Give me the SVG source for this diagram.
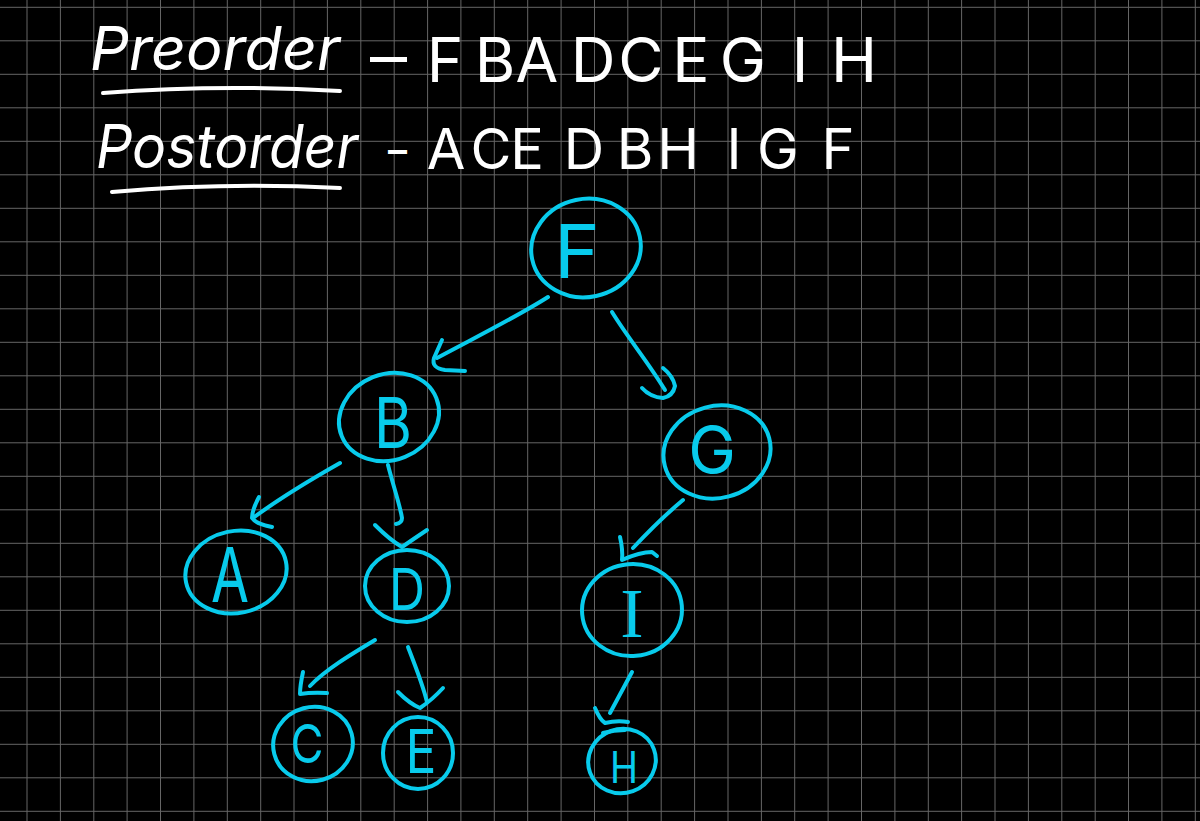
<svg xmlns="http://www.w3.org/2000/svg" width="1200" height="821" viewBox="0 0 1200 821">
<style>
.grid{stroke:#666;stroke-width:1;fill:none}
.hw{fill:#fff;font-family:Inter,"Liberation Sans",sans-serif;font-weight:400}
.hws{fill:#fff;stroke:none;font-family:Inter,"Liberation Sans",sans-serif;font-weight:400;font-style:italic}
.ul{stroke:#fff;stroke-width:4;fill:none;stroke-linecap:round}
.node{fill:none;stroke:#08cbec;stroke-width:4;stroke-linecap:round}
.lbl{fill:#08cbec;font-family:Inter,"Liberation Sans",sans-serif;font-weight:400;text-anchor:middle}
.lbls{fill:#08cbec;font-family:"Liberation Serif",serif;text-anchor:middle}
.edge{fill:none;stroke:#08cbec;stroke-width:4;stroke-linecap:round;stroke-linejoin:round}
</style>
<rect width="1200" height="821" fill="#000"/>
<path class="grid" d="M27,0V821M60.4,0V821M93.8,0V821M127.1,0V821M160.5,0V821M193.9,0V821M227.3,0V821M260.7,0V821M294,0V821M327.4,0V821M360.8,0V821M394.2,0V821M427.6,0V821M460.9,0V821M494.3,0V821M527.7,0V821M561.1,0V821M594.5,0V821M627.8,0V821M661.2,0V821M694.6,0V821M728,0V821M761.4,0V821M794.7,0V821M828.1,0V821M861.5,0V821M894.9,0V821M928.3,0V821M961.6,0V821M995,0V821M1028.4,0V821M1061.8,0V821M1095.2,0V821M1128.5,0V821M1161.9,0V821M1195.3,0V821M0,7.3H1200M0,40.8H1200M0,74.3H1200M0,107.8H1200M0,141.3H1200M0,174.8H1200M0,208.3H1200M0,241.8H1200M0,275.3H1200M0,308.8H1200M0,342.3H1200M0,375.8H1200M0,409.3H1200M0,442.8H1200M0,476.3H1200M0,509.8H1200M0,543.3H1200M0,576.8H1200M0,610.3H1200M0,643.8H1200M0,677.3H1200M0,710.8H1200M0,744.3H1200M0,777.8H1200M0,811.3H1200"/>
<g id="header">
<text class="hws" x="90" y="70" font-size="60" textLength="250" lengthAdjust="spacingAndGlyphs">Preorder</text>
<path class="ul" d="M103,93 Q220,84 340,91"/>
<text class="hw" x="370" y="78" font-size="60" textLength="37" lengthAdjust="spacingAndGlyphs">–</text>
<text class="hw" font-size="62" text-anchor="middle" y="82" x="445 495 537 593 641 691 743 800 854">FBADCEGIH</text>
<text class="hws" x="96" y="168" font-size="60" textLength="262" lengthAdjust="spacingAndGlyphs">Postorder</text>
<path class="ul" d="M112,192 Q225,182 340,188"/>
<text class="hw" x="388" y="168" font-size="50" textLength="19" lengthAdjust="spacingAndGlyphs">–</text>
<text class="hw" font-size="56" text-anchor="middle" y="169" x="446 491 527 584 635 678 734 778 838">ACEDBHIGF</text>
</g>
<g id="connectors">
<path class="edge" d="M548,297 C520,315 480,335 437,358"/>
<path class="edge" d="M442,340 L434,358 Q431,368 445,370 L465,371"/>
<path class="edge" d="M612,312 C628,338 648,362 665,390"/>
<path class="edge" d="M642,388 Q650,397 663,398 Q673,396 675,386 Q673,376 663,368"/>
<path class="edge" d="M340,463 C310,480 280,498 253,518"/>
<path class="edge" d="M259,497 Q252,510 252,518 Q256,524 272,527"/>
<path class="edge" d="M388,465 C393,485 400,505 402,518 Q402,523 396,524"/>
<path class="edge" d="M375,525 Q390,540 402,547 Q415,538 427,530"/>
<path class="edge" d="M683,500 C665,515 648,532 633,548"/>
<path class="edge" d="M620,537 Q623,550 622,560 Q640,552 652,552 L657,556"/>
<path class="edge" d="M375,640 C350,655 325,670 310,686"/>
<path class="edge" d="M303,672 Q300,686 300,694 Q312,692 327,693"/>
<path class="edge" d="M408,647 C415,665 423,685 427,702"/>
<path class="edge" d="M398,692 Q410,704 420,708 Q432,700 443,688"/>
<path class="edge" d="M632,672 C625,685 617,700 610,713"/>
<path class="edge" d="M595,708 Q600,720 605,723 Q617,720 628,722"/>
</g>
<g id="node-F">
<ellipse class="node" cx="586" cy="248" rx="55" ry="49" transform="rotate(-12 586 248)"/>
<text class="lbl" x="577" y="278" font-size="74" textLength="46" lengthAdjust="spacingAndGlyphs">F</text>
</g>
<g id="node-B">
<ellipse class="node" cx="389" cy="417" rx="51" ry="43" transform="rotate(-22 389 417)"/>
<text class="lbl" x="393" y="448" font-size="70" textLength="38" lengthAdjust="spacingAndGlyphs">B</text>
</g>
<g id="node-G">
<ellipse class="node" cx="717" cy="452" rx="54" ry="46" transform="rotate(-15 717 452)"/>
<text class="lbl" x="712" y="473" font-size="64">G</text>
</g>
<g id="node-A">
<ellipse class="node" cx="236" cy="572" rx="51" ry="41" transform="rotate(-12 236 572)"/>
<text class="lbl" x="230" y="602" font-size="76" textLength="38" lengthAdjust="spacingAndGlyphs">A</text>
</g>
<g id="node-D">
<ellipse class="node" cx="407" cy="586" rx="42" ry="36"/>
<text class="lbl" x="407" y="610" font-size="58" textLength="36" lengthAdjust="spacingAndGlyphs">D</text>
</g>
<g id="node-I">
<ellipse class="node" cx="632" cy="610" rx="50" ry="46" transform="rotate(-5 632 610)"/>
<text class="lbls" x="632" y="637" font-size="70">I</text>
</g>
<g id="node-C">
<ellipse class="node" cx="313" cy="744" rx="40" ry="37" transform="rotate(-15 313 744)"/>
<text class="lbl" x="307" y="763" font-size="54" textLength="33" lengthAdjust="spacingAndGlyphs">C</text>
</g>
<g id="node-E">
<ellipse class="node" cx="418" cy="753" rx="35" ry="36"/>
<text class="lbl" x="421" y="773" font-size="60" textLength="31" lengthAdjust="spacingAndGlyphs">E</text>
</g>
<g id="node-H">
<ellipse class="node" cx="622" cy="761" rx="34" ry="32" transform="rotate(-20 622 761)"/>
<path class="node" d="M603,733 Q614,730 625,730"/>
<text class="lbl" x="624" y="783" font-size="44" textLength="28" lengthAdjust="spacingAndGlyphs">H</text>
</g>
</svg>
